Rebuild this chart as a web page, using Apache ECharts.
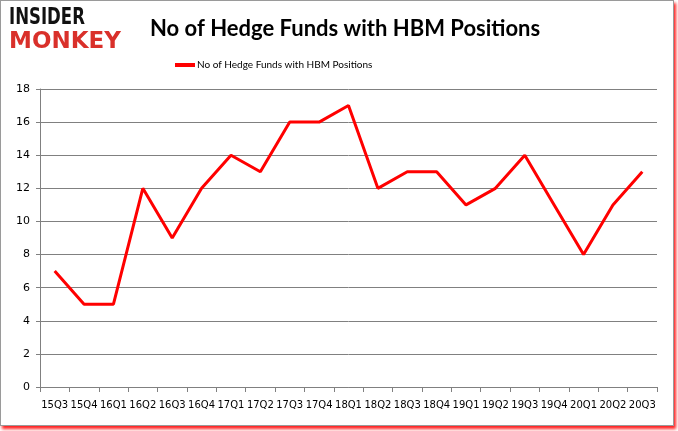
<!DOCTYPE html>
<html><head><meta charset="utf-8">
<script src="https://cdn.jsdelivr.net/npm/echarts@6/dist/echarts.min.js"></script>
<style>
html,body{margin:0;padding:0;background:#fff;}
#wrap{position:absolute;left:0;top:0;width:672px;height:424px;border:1px solid #9a9a9a;box-shadow:2px 3px 3px #ff2020;background:#fff;}
#c{width:678px;height:431px;position:absolute;left:0;top:0;}
</style></head>
<body>
<div id="wrap"></div>
<div id="c"></div>
<script>
const categories = ['15Q3','15Q4','16Q1','16Q2','16Q3','16Q4','17Q1','17Q2','17Q3','17Q4','18Q1','18Q2','18Q3','18Q4','19Q1','19Q2','19Q3','19Q4','20Q1','20Q2','20Q3'];
const values = [7,5,5,12,9,12,14,13,16,16,17,12,13,13,11,12,14,11,8,11,13];
const seriesName = 'No of Hedge Funds with HBM Positions';
const titleText = 'No of Hedge Funds with HBM Positions';

const chart = echarts.init(document.getElementById('c'));
chart.setOption({
  animation:false,
  backgroundColor:'transparent',
  title:{text:titleText,left:145,top:13,textStyle:{fontFamily:'Lato',fontSize:22,fontWeight:'bold',color:'#000'}},
  legend:{top:55,left:170,itemWidth:20,itemHeight:4,itemGap:4,icon:'rect',textStyle:{fontFamily:'Lato',fontSize:10,color:'#000',padding:[0,0,0,-3]},data:[seriesName]},
  graphic:[
    {type:'text',x:9,y:7,scaleX:0.8,style:{text:'INSIDER',fontFamily:'DejaVu Sans Condensed',fontWeight:'bold',fontSize:23,fill:'#111'}},
    {type:'text',x:9,y:31,style:{text:'MONKEY',fontFamily:'DejaVu Sans',fontWeight:'bold',fontSize:23,fill:'#d9302a'}}
  ],
  grid:{left:40,right:21,top:89,bottom:44},
  xAxis:{type:'category',data:categories,boundaryGap:true,
    axisLine:{lineStyle:{color:'#808080'}},axisTick:{show:true,alignWithLabel:false,lineStyle:{color:'#808080'}},
    axisLabel:{interval:0,color:'#000',fontFamily:'DejaVu Sans',fontSize:10,margin:13}},
  yAxis:{type:'value',min:0,max:18,interval:2,
    axisLine:{show:true,lineStyle:{color:'#808080'}},axisTick:{show:true,length:4,lineStyle:{color:'#808080'}},
    splitLine:{lineStyle:{color:'#808080'}},
    axisLabel:{color:'#000',fontFamily:'DejaVu Sans',fontSize:11,margin:10}},
  series:[{name:seriesName,type:'line',data:values,symbol:'none',lineStyle:{color:'#ff0000',width:3},itemStyle:{color:'#ff0000'}}]
});
</script>
</body></html>
